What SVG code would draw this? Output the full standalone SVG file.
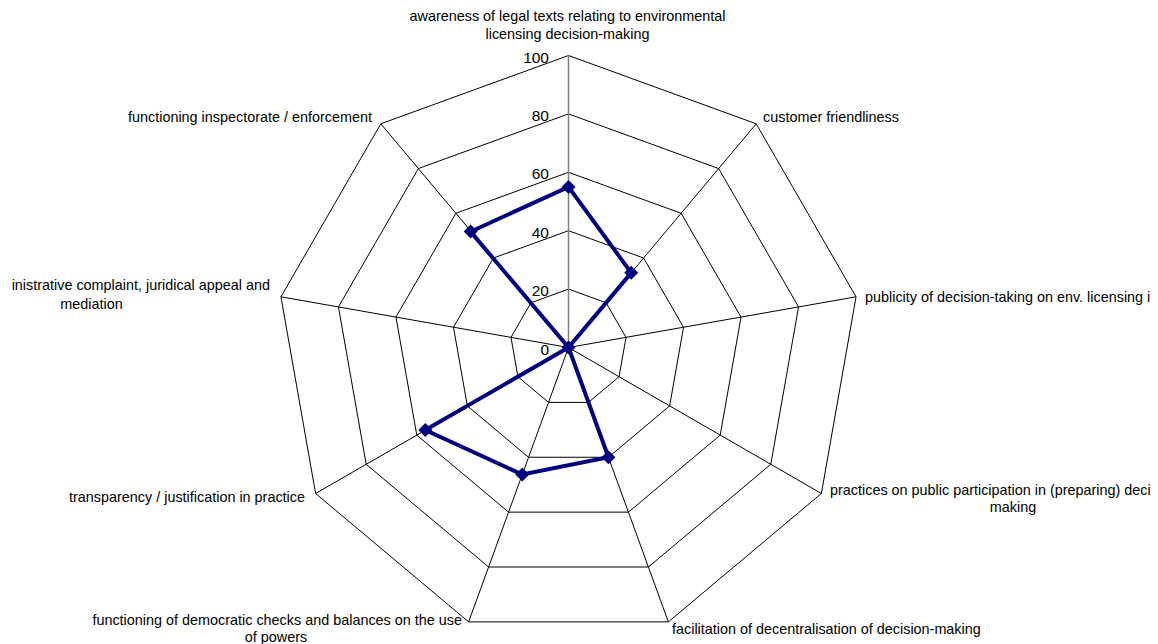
<svg xmlns="http://www.w3.org/2000/svg" width="1158" height="644" viewBox="0 0 1158 644">
<style>
.ring{fill:none;stroke:#000;stroke-width:1}
.spoke{stroke:#000;stroke-width:1}
.vaxis{stroke:#808080;stroke-width:1.5}
.lbl{font-family:"Liberation Sans",Arial,sans-serif;font-size:14.4px;fill:#000}
.num{font-family:"Liberation Sans",Arial,sans-serif;font-size:15.5px;fill:#000;text-anchor:end}
.data{fill:none;stroke:#000080;stroke-width:4;stroke-linejoin:miter}
</style>
<defs>
<path id="dia" d="M0,-7 L7,0 L0,7 L-7,0 Z" fill="#000080"/>
</defs>
<rect width="1158" height="644" fill="#fff"/>
<g id="grid">
<polygon class="ring" points="568.5,55.5 756.19,123.81 856.06,296.8 821.38,493.5 668.37,621.89 468.63,621.89 315.62,493.5 280.94,296.8 380.81,123.81"/>
<polygon class="ring" points="568.5,113.9 718.65,168.55 798.55,306.94 770.81,464.3 648.4,567.01 488.6,567.01 366.19,464.3 338.45,306.94 418.35,168.55"/>
<polygon class="ring" points="568.5,172.3 681.12,213.29 741.04,317.08 720.23,435.1 628.42,512.13 508.58,512.13 416.77,435.1 395.96,317.08 455.88,213.29"/>
<polygon class="ring" points="568.5,230.7 643.58,258.03 683.53,327.22 669.65,405.9 608.45,457.26 528.55,457.26 467.35,405.9 453.47,327.22 493.42,258.03"/>
<polygon class="ring" points="568.5,289.1 606.04,302.76 626.01,337.36 619.08,376.7 588.47,402.38 548.53,402.38 517.92,376.7 511,337.36 530.96,302.76"/>
<line class="spoke" x1="568.5" y1="347.5" x2="756.19" y2="123.81"/>
<line class="spoke" x1="568.5" y1="347.5" x2="856.06" y2="296.8"/>
<line class="spoke" x1="568.5" y1="347.5" x2="821.38" y2="493.5"/>
<line class="spoke" x1="568.5" y1="347.5" x2="668.37" y2="621.89"/>
<line class="spoke" x1="568.5" y1="347.5" x2="468.63" y2="621.89"/>
<line class="spoke" x1="568.5" y1="347.5" x2="315.62" y2="493.5"/>
<line class="spoke" x1="568.5" y1="347.5" x2="280.94" y2="296.8"/>
<line class="spoke" x1="568.5" y1="347.5" x2="380.81" y2="123.81"/>
<line class="vaxis" x1="568.5" y1="347.5" x2="568.5" y2="55.5"/>
</g>
<g id="scale">
<text class="num" x="549" y="62.5">100</text>
<text class="num" x="549" y="120.9">80</text>
<text class="num" x="549" y="179.3">60</text>
<text class="num" x="549" y="237.7">40</text>
<text class="num" x="549" y="296.1">20</text>
<text class="num" x="549" y="354.5">0</text>
</g>
<g id="series">
<polygon class="data" points="568.5,186.9 631.2,272.8 568.5,347.5 568.5,347.5 608.45,457.26 522.3,474.5 425.3,430 568.5,347.5 470.6,231.6"/>
<use href="#dia" x="568.5" y="186.9"/>
<use href="#dia" x="631.2" y="272.8"/>
<use href="#dia" x="568.5" y="347.5"/>
<use href="#dia" x="608.45" y="457.26"/>
<use href="#dia" x="522.3" y="474.5"/>
<use href="#dia" x="425.3" y="430"/>
<use href="#dia" x="470.6" y="231.6"/>
</g>
<g id="labels">
<text class="lbl" x="567.5" y="21" text-anchor="middle">awareness of legal texts relating to environmental</text>
<text class="lbl" x="567.5" y="39" text-anchor="middle">licensing decision-making</text>
<text class="lbl" x="763" y="122">customer friendliness</text>
<text class="lbl" x="865" y="302">publicity of decision-taking on env. licensing i</text>
<text class="lbl" x="830" y="495">practices on public participation in (preparing) deci</text>
<text class="lbl" x="1013" y="512" text-anchor="middle">making</text>
<text class="lbl" x="672" y="634">facilitation of decentralisation of decision-making</text>
<text class="lbl" x="462" y="625" text-anchor="end">functioning of democratic checks and balances on the use</text>
<text class="lbl" x="276" y="642" text-anchor="middle">of powers</text>
<text class="lbl" x="305" y="502" text-anchor="end">transparency / justification in practice</text>
<text class="lbl" x="270" y="290" text-anchor="end">inistrative complaint, juridical appeal and</text>
<text class="lbl" x="91.5" y="309" text-anchor="middle">mediation</text>
<text class="lbl" x="372" y="122" text-anchor="end">functioning inspectorate / enforcement</text>
</g>
</svg>
